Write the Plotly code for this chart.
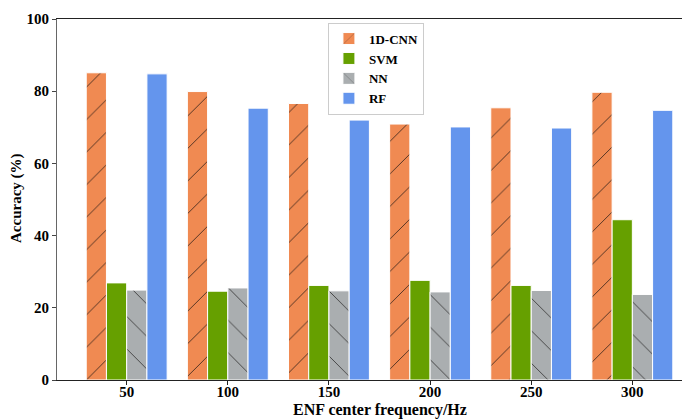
import plotly.graph_objects as go

categories = ["50", "100", "150", "200", "250", "300"]
cnn = [85.1, 79.9, 76.6, 70.9, 75.4, 79.7]
svm = [26.9, 24.6, 26.2, 27.6, 26.2, 44.4]
nn = [24.9, 25.5, 24.7, 24.4, 24.8, 23.7]
rf = [84.8, 75.3, 72.0, 70.1, 69.8, 74.7]
y_ticks = [0, 20, 40, 60, 80, 100]

FONT = "Liberation Serif, Times New Roman, serif"
xpos = list(range(len(categories)))

fig = go.Figure()

def add(name, vals, color, shape=None, fg=None):
    marker = dict(color=color, line=dict(color="white", width=1))
    if shape:
        marker["pattern"] = dict(shape=shape, size=23, solidity=0.04,
                                 fgcolor=fg, bgcolor=color, fillmode="replace")
    fig.add_trace(go.Bar(x=xpos, y=vals, name=name, marker=marker))

add("1D-CNN", cnn, "#F08A52", "/", "#4a2e20")
add("SVM", svm, "#66A000")
add("NN", nn, "#AAAEB0", "\\", "#404040")
add("RF", rf, "#6495ED")

# The page body adds an 8px margin, so the figure is drawn 8px smaller
fig.update_layout(
    width=682, height=411,
    margin=dict(l=49, r=0, t=11, b=39, autoexpand=False),
    paper_bgcolor="white", plot_bgcolor="white",
    barmode="group", bargap=0.2, bargroupgap=0,
    font=dict(family=FONT, color="black", size=14),
    showlegend=True,
    legend=dict(x=0.428, y=0.99, xanchor="left", yanchor="top",
                bordercolor="#cccccc", borderwidth=1, bgcolor="white",
                font=dict(family=FONT, size=13, weight="bold"),
                itemwidth=30, tracegroupgap=0),
    xaxis=dict(range=[-0.689, 5.57], tickvals=xpos, ticktext=categories,
               automargin=False,
               showline=True, linecolor="#222", linewidth=1, mirror=True,
               ticks="outside", ticklen=4, tickcolor="#222",
               ticklabelstandoff=-6,
               tickfont=dict(family=FONT, size=15, weight="bold"),
               showgrid=False, zeroline=False),
    yaxis=dict(range=[0, 100], tickvals=y_ticks, automargin=False,
               showline=True, linecolor="#666", linewidth=1,
               ticks="outside", ticklen=4, tickcolor="#444",
               tickfont=dict(family=FONT, size=15, weight="bold"),
               showgrid=False, zeroline=False),
    annotations=[
        dict(text="ENF center frequency/Hz", xref="paper", yref="paper",
             x=(380 - 57) / 633, y=-(410 - 380) / 361, showarrow=False,
             xanchor="center", yanchor="middle",
             font=dict(family=FONT, size=16, weight="bold")),
        dict(text="Accuracy (%)", xref="paper", yref="paper",
             x=-(57 - 16) / 633, y=(380 - 198) / 361, showarrow=False,
             xanchor="center", yanchor="middle", textangle=-90,
             font=dict(family=FONT, size=15, weight="bold")),
    ],
)

fig.write_html("out.html")
